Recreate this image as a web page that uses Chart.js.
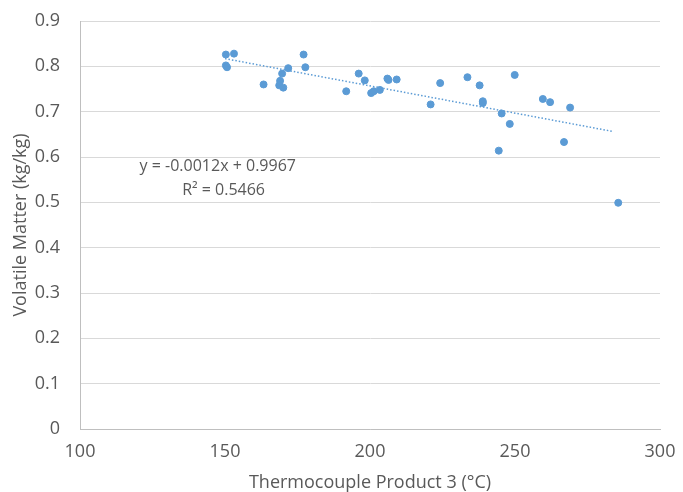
<!DOCTYPE html>
<html>
<head>
<meta charset="utf-8">
<script src="https://cdn.jsdelivr.net/npm/chart.js@4"></script>
<style>
  html, body { margin: 0; padding: 0; background: #fff; }
  #wrap { width: 683px; height: 492px; }
</style>
</head>
<body>
<div id="wrap"><canvas id="scatterChart" width="683" height="492"></canvas></div>
<script>
// temperature (°C) and volatile matter (kg/kg)
const tempC = [150.3, 153.1, 150.3, 150.7, 163.3, 169.0, 168.7, 170.1, 169.7, 171.8,
  177.1, 177.7, 191.8, 196.1, 198.2, 200.4, 201.3, 203.4, 206.0, 206.4,
  209.2, 220.9, 224.2, 233.6, 237.8, 238.9, 238.9, 245.4, 244.4, 248.2,
  249.9, 259.6, 262.1, 269.0, 266.9, 285.6];
const volatile = [0.826, 0.828, 0.802, 0.798, 0.760, 0.768, 0.758, 0.753, 0.784, 0.796,
  0.826, 0.798, 0.745, 0.784, 0.769, 0.741, 0.745, 0.748, 0.773, 0.770,
  0.771, 0.716, 0.763, 0.776, 0.758, 0.723, 0.719, 0.696, 0.614, 0.673,
  0.781, 0.728, 0.721, 0.709, 0.633, 0.499];

// linear trendline end points
const trendX = [150, 284];
const trendY = [0.817, 0.656];

const equationText = ["y = -0.0012x + 0.9967", "R² = 0.5466"];

const blue = "#5b9bd5";
const textGrey = "#595959";
const fontFamily = "'Open Sans', 'Noto Sans', sans-serif";

const points = tempC.map((t, i) => ({ x: t, y: volatile[i] }));
const trend = trendX.map((t, i) => ({ x: t, y: trendY[i] }));

// draws the trendline equation label
const equationLabel = {
  id: "equationLabel",
  afterDatasetsDraw(chart) {
    const { ctx, scales } = chart;
    ctx.save();
    ctx.fillStyle = textGrey;
    ctx.font = "16px " + fontFamily;
    ctx.textAlign = "center";
    ctx.textBaseline = "middle";
    ctx.fillText(equationText[0], scales.x.getPixelForValue(147.5), scales.y.getPixelForValue(0.580));
    ctx.fillText(equationText[1], scales.x.getPixelForValue(149.5), scales.y.getPixelForValue(0.527));
    ctx.restore();
  }
};

const config = {
  type: "scatter",
  data: {
    datasets: [
      {
        label: "Volatile Matter",
        data: points,
        backgroundColor: blue,
        borderColor: blue,
        pointRadius: 3.5,
        pointHoverRadius: 3.5,
      },
      {
        type: "line",
        label: "Linear",
        data: trend,
        borderColor: blue,
        borderWidth: 1.5,
        borderDash: [1.5, 2],
        pointRadius: 0,
        fill: false,
      },
    ],
  },
  options: {
    responsive: false,
    animation: false,
    layout: { padding: { top: 21, right: 23, left: 0, bottom: 0 } },
    plugins: {
      legend: { display: false },
      tooltip: { enabled: false },
    },
    scales: {
      x: {
        type: "linear",
        min: 100,
        max: 300,
        ticks: {
          stepSize: 50,
          color: textGrey,
          font: { family: fontFamily, size: 18 },
          padding: 0,
        },
        // invisible tick marks just push the labels down
        grid: { color: "rgba(0,0,0,0)", tickColor: "rgba(0,0,0,0)", tickLength: 12 },
        border: { color: "#bfbfbf" },
        title: {
          display: true,
          text: "Thermocouple Product 3 (°C)",
          color: textGrey,
          font: { family: fontFamily, size: 18 },
          padding: { top: 2, bottom: -2 },
        },
        afterFit(scale) { scale.height = 63; },
      },
      y: {
        min: 0,
        max: 0.9,
        ticks: {
          stepSize: 0.1,
          color: textGrey,
          font: { family: fontFamily, size: 18 },
          padding: 0,
        },
        grid: { color: "#d9d9d9", tickColor: "rgba(0,0,0,0)", tickLength: 20 },
        border: { color: "#bfbfbf" },
        title: {
          display: true,
          text: "Volatile Matter (kg/kg)",
          color: textGrey,
          font: { family: fontFamily, size: 18 },
          padding: { top: 10, bottom: 0 },
        },
        afterFit(scale) { scale.width = 80; },
      },
    },
  },
  plugins: [equationLabel],
};

const scatterChart = new Chart(document.getElementById("scatterChart"), config);
</script>
</body>
</html>
